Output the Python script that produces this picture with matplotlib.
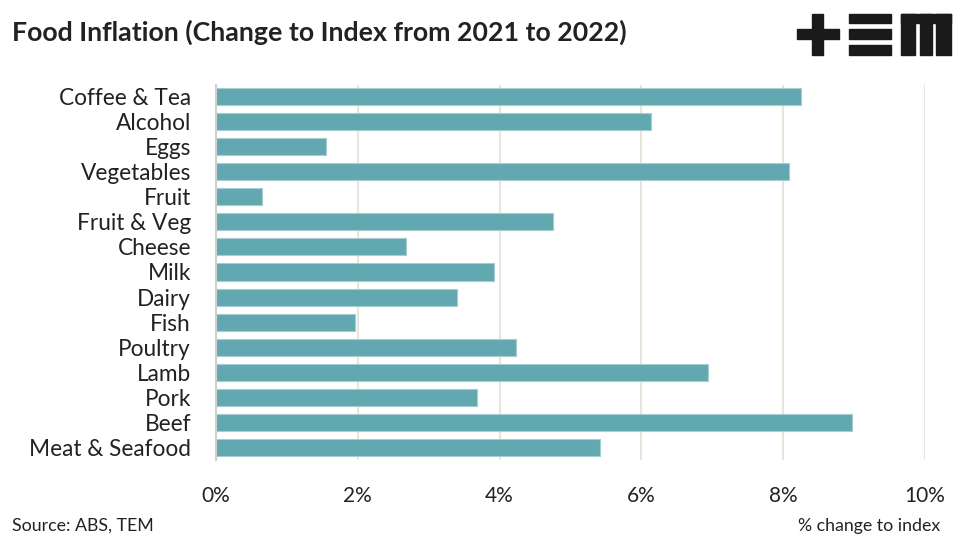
import matplotlib
matplotlib.use("Agg")
import matplotlib.pyplot as plt
from matplotlib.patches import Rectangle

categories = ["Coffee & Tea", "Alcohol", "Eggs", "Vegetables", "Fruit", "Fruit & Veg",
              "Cheese", "Milk", "Dairy", "Fish", "Poultry", "Lamb", "Pork", "Beef",
              "Meat & Seafood"]
values = [8.25, 6.13, 1.55, 8.08, 0.65, 4.75, 2.68, 3.92, 3.40, 1.96, 4.23, 6.94, 3.68, 8.97, 5.41]
xticks = [0, 2, 4, 6, 8, 10]
xticklabels = ["0%", "2%", "4%", "6%", "8%", "10%"]

plt.rcParams['font.family'] = ['Lato', 'DejaVu Sans']
W, H = 962, 543
fig = plt.figure(figsize=(W / 100, H / 100), dpi=100)
ax = fig.add_axes([216 / W, 1 - 460 / H, (925 - 216) / W, (460 - 85) / H])

ypos = list(range(len(categories)))
ax.barh(ypos, values, height=0.68, color="#62A8B0", edgecolor="#A7CDD1",
        linewidth=0.8, joinstyle="round", zorder=3)
ax.set_ylim(len(categories) - 1 + 0.48, -0.44)
ax.set_xlim(0, 10)
ax.set_yticks(ypos)
ax.set_yticklabels(categories, fontsize=16.3, color="#222222")
ax.set_xticks(xticks)
ax.set_xticklabels(xticklabels, fontsize=15, color="#222222")
ax.tick_params(axis="y", length=0, pad=18)
ax.tick_params(axis="x", length=0, pad=19)
for s in ["top", "right", "bottom"]:
    ax.spines[s].set_visible(False)
ax.spines["left"].set_color("#D0D0D0")
ax.spines["left"].set_linewidth(1.5)
ax.spines["left"].set_zorder(4)
ax.grid(axis="x", color="#E6E6DA", linewidth=1.5, zorder=0)
ax.set_axisbelow(True)

fig.text(12 / W, 1 - 32 / H, "Food Inflation (Change to Index from 2021 to 2022)",
         fontsize=19.3, fontweight="bold", color="#222222", va="center", ha="left")
fig.text(12 / W, 1 - 526 / H, "Source: ABS, TEM", fontsize=12.8, color="#222222",
         va="center", ha="left")
fig.text(940 / W, 1 - 526 / H, "% change to index", fontsize=12.8, color="#222222",
         va="center", ha="right")

# logo
def rect(x0, y0, x1, y1):
    fig.patches.append(Rectangle((x0 / W, 1 - y1 / H), (x1 - x0) / W, (y1 - y0) / H,
                                 transform=fig.transFigure, color="#1A1A1A", zorder=5))
rect(797, 29, 839, 39)
rect(812, 14, 823, 55)
rect(849, 14, 891, 23)
rect(849, 29, 891, 39)
rect(849, 45, 891, 55)
rect(901, 14, 951, 23)
rect(901, 14, 915, 55)
rect(920, 14, 932, 55)
rect(936, 14, 951, 55)

fig.savefig("out.png", dpi=100)
